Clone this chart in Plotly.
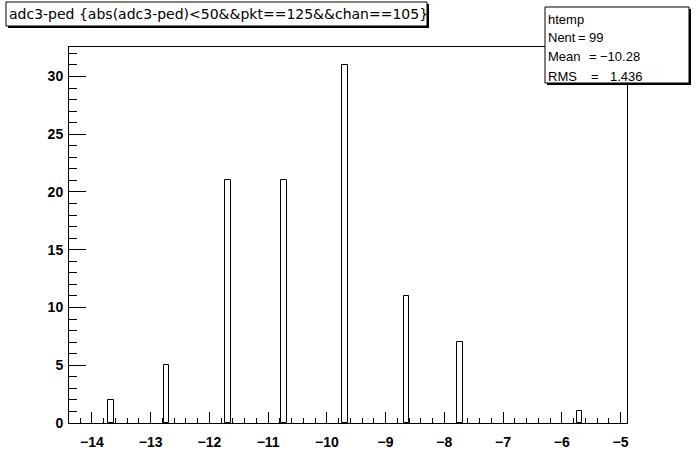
import plotly.graph_objects as go

# ---- data ----
bin_centers = [-13.6775, -12.7275, -11.6825, -10.7325, -9.6875, -8.6425, -7.7375, -5.6975]
counts = [2, 5, 21, 21, 31, 11, 7, 1]
bin_width = 0.095
x_range = [-14.39, -4.89]
y_range = [0, 32.55]
x_ticks = [-14, -13, -12, -11, -10, -9, -8, -7, -6, -5]
y_ticks = [0, 5, 10, 15, 20, 25, 30]
title_text = "adc3-ped {abs(adc3-ped)&lt;50&amp;&amp;pkt==125&amp;&amp;chan==105}"
stats_name = "htemp"
stats_labels = ["Nent", "Mean", "RMS"]
stats_values = ["99", "\u221210.28", "1.436"]

W, H = 696, 472
L, R, T, B = 69, 69, 47, 49
PW, PH = W - L - R, H - T - B


def px(x):
    return (x - L) / PW


def py(y):
    return (H - B - y) / PH


fig = go.Figure()
fig.add_trace(go.Bar(
    x=bin_centers, y=counts, width=[bin_width] * len(counts),
    marker=dict(color="rgba(255,255,255,0)", line=dict(color="black", width=1)),
    hoverinfo="x+y",
))

tickfont = dict(family="Liberation Sans, Arial, sans-serif", size=14, color="black", weight="bold")

fig.update_layout(
    width=W, height=H,
    margin=dict(l=L, r=R, t=T, b=B, pad=0),
    paper_bgcolor="white", plot_bgcolor="white",
    showlegend=False, bargap=0,
    xaxis=dict(
        range=x_range, tickvals=x_ticks, ticks="inside", ticklen=11, tickwidth=1,
        tickcolor="black", showline=True, linecolor="black", linewidth=1, mirror=True,
        showgrid=False, zeroline=False, tickfont=tickfont, ticklabelstandoff=6,
        minor=dict(dtick=0.2, tick0=-14, ticks="inside", ticklen=5, tickwidth=1,
                   tickcolor="black", showgrid=False),
    ),
    yaxis=dict(
        range=y_range, tickvals=y_ticks, ticks="inside", ticklen=17, tickwidth=1,
        tickcolor="black", showline=True, linecolor="black", linewidth=1, mirror=True,
        showgrid=False, zeroline=False, tickfont=tickfont, ticklabelstandoff=2,
        minor=dict(dtick=1, tick0=0, ticks="inside", ticklen=8, tickwidth=1,
                   tickcolor="black", showgrid=False),
    ),
)

shapes = []
annotations = []


def box(x0, y0, x1, y1):
    # shadow
    shapes.append(dict(type="rect", xref="paper", yref="paper",
                       x0=px(x0 + 2), x1=px(x1 + 2), y0=py(y0 + 2), y1=py(y1 + 2),
                       fillcolor="black", line=dict(width=0), layer="above"))
    shapes.append(dict(type="rect", xref="paper", yref="paper",
                       x0=px(x0), x1=px(x1), y0=py(y0), y1=py(y1),
                       fillcolor="white", line=dict(color="black", width=1), layer="above"))


box(6, 2, 427, 26)
box(545, 7, 689, 83)

titlefont = dict(family="DejaVu Sans, Liberation Sans, sans-serif", size=14, color="black")
statfont = dict(family="Liberation Sans, Arial, sans-serif", size=13, color="black")


def text(x, y, s, font, anchor="left"):
    annotations.append(dict(xref="paper", yref="paper", x=px(x), y=py(y), text=s,
                            showarrow=False, xanchor=anchor, yanchor="middle",
                            font=font, xshift=-2, borderpad=0))


text(10, 14, title_text, titlefont)
text(549, 20, stats_name, statfont)
rows_y = [38, 57, 76]
eq_x = [579, 590, 592]
val_x = [590, 601, 611]
for lab, val, yy, ex, vx in zip(stats_labels, stats_values, rows_y, eq_x, val_x):
    text(549, yy, lab, statfont)
    text(ex, yy, "=", statfont)
    text(vx, yy, val, statfont)

fig.update_layout(shapes=shapes, annotations=annotations)
fig.write_html("out.html", config={"displayModeBar": False},
               post_script="document.body.style.margin='0';")
